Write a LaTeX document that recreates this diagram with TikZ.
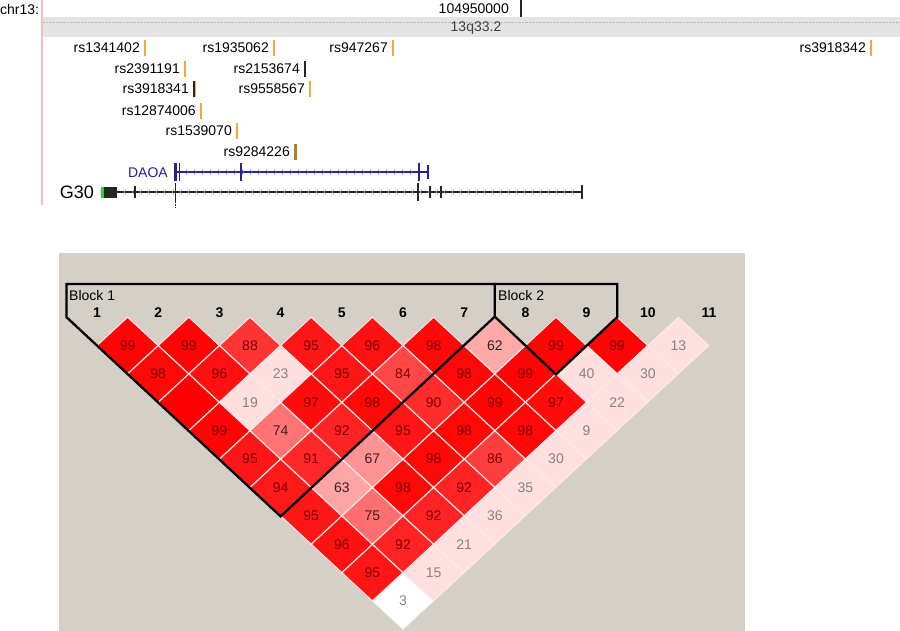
\documentclass[tikz,border=0pt]{standalone}
\usepackage{fontspec}
\setmainfont{Liberation Sans}
\usetikzlibrary{shapes.geometric}

\definecolor{snporange}{RGB}{240,168,60}
\definecolor{hvgray}{RGB}{212,208,200}
\definecolor{bandgray}{RGB}{228,228,228}
\definecolor{genenavy}{RGB}{35,35,140}
\definecolor{chrpink}{RGB}{245,190,190}
\definecolor{ldtextdark}{RGB}{125,0,0}
\definecolor{ldtextmid}{RGB}{55,35,35}
\definecolor{ldtextlight}{RGB}{135,130,130}

\tikzset{
  snplabel/.style={anchor=east, inner sep=0pt, font=\fontsize{14}{14}\selectfont},
  snptick/.style={line width=2.6pt, draw=snporange},
  darktick/.style={line width=2.6pt, draw=black!85},
  ldcell/.style={diamond, draw=white!92!red, line width=0.9pt, minimum width=61.2pt,
    minimum height=56.8pt, inner sep=0pt, font=\fontsize{14}{14}\selectfont},
  snpnum/.style={inner sep=0pt, font=\bfseries\fontsize{14}{14}\selectfont},
  blocklabel/.style={anchor=west, inner sep=0pt, font=\fontsize{14}{14}\selectfont},
  blockline/.style={line width=2.3pt, line join=miter},
}

\begin{document}
\begin{tikzpicture}[x=1pt,y=-1pt]
  \useasboundingbox (0,0) rectangle (900,631);
  \fill[white] (0,0) rectangle (900,631);

  % browser track
  \fill[bandgray] (43,17) rectangle (900,37);
  \draw[gray!55, densely dotted] (43,22) -- (900,22);
  \draw[chrpink, line width=1.6pt] (42,0) -- (42,205);
  \draw
    (0,9) node[anchor=west, inner sep=0pt, font=\fontsize{14}{14}\selectfont] (chr){chr13:}
    (509,9) node[snplabel] (pos){104950000}
    (476,28) node[inner sep=0pt, text=black!75, font=\fontsize{14}{14}\selectfont] (band){13q33.2};
  \draw[darktick] (521,0) -- (521,17);

  \path
    (140,48) node[snplabel] (rs1341402){rs1341402}
    (269,48) node[snplabel] (rs1935062){rs1935062}
    (388,48) node[snplabel] (rs947267){rs947267}
    (866,48) node[snplabel] (rs3918342){rs3918342}
    (180,69) node[snplabel] (rs2391191){rs2391191}
    (300,69) node[snplabel] (rs2153674){rs2153674}
    (189,89) node[snplabel] (rs3918341){rs3918341}
    (305,89) node[snplabel] (rs9558567){rs9558567}
    (196,111) node[snplabel] (rs12874006){rs12874006}
    (232,131) node[snplabel] (rs1539070){rs1539070}
    (290,152) node[snplabel] (rs9284226){rs9284226};
  \begin{scope}[snptick]
    \draw (145,40) -- (145,56);
    \draw (274,40) -- (274,56);
    \draw (393,40) -- (393,56);
    \draw (871,40) -- (871,56);
    \draw (185,61) -- (185,77);
    \draw[darktick] (305,61) -- (305,77);
    \draw[darktick] (194,81) -- (194,97);
    \draw[line width=1pt] (195.8,81) -- (195.8,97);
    \draw (310,81) -- (310,97);
    \draw (201,103) -- (201,119);
    \draw (237,123) -- (237,139);
    \draw[line width=3pt, draw=snporange!75!black] (295,144) -- (295,160);
  \end{scope}

  % genes
  \node[snplabel, text=genenavy] (daoa) at (168,173) {DAOA};
  \draw[genenavy, line width=1.2pt] (176,172) -- (428,172);
  \fill[genenavy] (174,163) rectangle (177,181);
  \draw[genenavy, line width=1.4pt] (179.5,163) -- (179.5,181);
  \draw[genenavy, line width=1.6pt] (241,163) -- (241,181);
  \draw[genenavy, line width=2.4pt] (419,163) -- (419,181);
  \draw[genenavy, line width=1.2pt] (428,165) -- (428,179);
  \foreach \x in {188,196,...,412}
    \draw[genenavy!70, line width=0.6pt] (\x-2,169.5) -- (\x,172) -- (\x-2,174.5);

  \node[snplabel, font=\fontsize{18}{18}\selectfont] (g30) at (94,192) {G30};
  \fill[green!75!black!80] (101,187) rectangle (104,198);
  \fill[black!85] (104,187) rectangle (117,198);
  \draw[black!85, line width=1.4pt] (117,192) -- (582,192);
  \foreach \x in {124,132,...,576}
    \draw[gray!70, line width=0.6pt] (\x+2,189.5) -- (\x,192) -- (\x+2,194.5);
  \draw[black!85, line width=1.2pt] (135,186) -- (135,198);
  \draw[black!85, line width=1.6pt] (175.5,183) -- (175.5,201);
  \draw[black!85, densely dotted] (175.5,201) -- (175.5,207);
  \draw[black!85, line width=2.2pt] (418,183) -- (418,201);
  \draw[black!85, line width=1.2pt] (430,186) -- (430,198);
  \draw[black!85, line width=1.2pt] (441,186) -- (441,198);
  \draw[black!85, line width=1.2pt] (582,185) -- (582,199);

  % LD plot
  \fill[hvgray] (59,253) rectangle (745,631);
  \foreach \k in {1,...,11}
    \node[snpnum] (m\k) at ({97+61.2*(\k-1)},313) {\k};
  \foreach \i/\j/\ld in {1/2/99, 2/3/99, 3/4/88, 4/5/95, 5/6/96, 6/7/98, 7/8/62, 8/9/99, 9/10/99, 10/11/13,
      1/3/98, 2/4/96, 3/5/23, 4/6/95, 5/7/84, 6/8/98, 7/9/99, 8/10/40, 9/11/30,
      1/4/100, 2/5/19, 3/6/97, 4/7/98, 5/8/90, 6/9/99, 7/10/97, 8/11/22,
      1/5/99, 2/6/74, 3/7/92, 4/8/95, 5/9/98, 6/10/98, 7/11/9,
      1/6/95, 2/7/91, 3/8/67, 4/9/98, 5/10/86, 6/11/30,
      1/7/94, 2/8/63, 3/9/98, 4/10/92, 5/11/35,
      1/8/95, 2/9/75, 3/10/92, 4/11/36,
      1/9/96, 2/10/92, 3/11/21,
      1/10/95, 2/11/15} {
    \pgfmathsetmacro\cx{97+61.2*(\i+\j-2)/2}
    \pgfmathsetmacro\cy{345.5+28.4*(\j-\i-1)}
    \pgfmathtruncatemacro\g{min(223,446*(1-\ld/100))}
    \definecolor{cellfill}{RGB}{255,\g,\g}
    \ifnum\ld>79 \def\tc{ldtextdark}\else\ifnum\ld>49 \def\tc{ldtextmid}\else\def\tc{ldtextlight}\fi\fi
    \ifnum\ld<100 \edef\lbl{\ld}\else\def\lbl{}\fi
    \node[ldcell, fill=cellfill, text=\tc] (c\i-\j) at (\cx,\cy) {\lbl};
  }
  \node[ldcell, fill=white, text=ldtextlight] (c1-11) at (403,601.1) {3};

  % haplotype blocks
  \coordinate (blk1nw) at (66.4,284);
  \coordinate (blk1sw) at (66.4,317.1);
  \coordinate (blk12) at (494.8,284);
  \coordinate (blk2ne) at (617.2,284);
  \coordinate (blk2se) at (617.2,317.1);
  \draw[blockline] (blk1sw) -- (blk1nw) -- (blk12) -- (c7-8.north) -- (c1-7.south) -- cycle;
  \draw[blockline] (blk12) -- (blk2ne) -- (blk2se) -- (c8-9.south) -- (c7-8.north);
  \node[blocklabel] (blk1) at (69,295) {Block 1};
  \node[blocklabel] (blk2) at (498,295) {Block 2};
\end{tikzpicture}
\end{document}
